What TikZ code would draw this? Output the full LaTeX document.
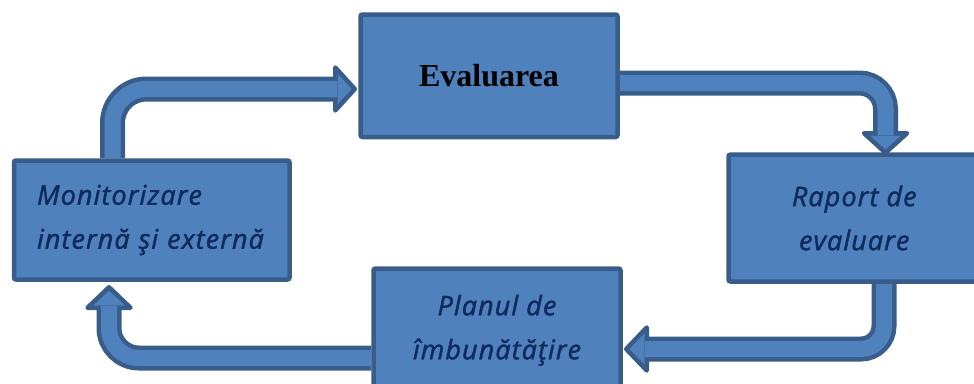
\documentclass[tikz,border=0pt]{standalone}
\usepackage{fontspec}
\usetikzlibrary{calc,backgrounds}
\newfontfamily\handfont[LetterSpace=4,FakeBold=1.5]{Open Sans}
\newfontfamily\titlefont{Liberation Serif}
\definecolor{boxfill}{HTML}{4F81BD}
\definecolor{boxline}{HTML}{385D8A}
\definecolor{txt}{HTML}{0F2A5C}
\begin{document}
\begin{tikzpicture}[x=1pt,y=-1pt,
  box/.style={draw=boxline, fill=boxfill, line width=4.5pt, rounded corners=2pt, inner sep=0pt},
  hand/.style={font=\handfont\itshape\fontsize{27}{44}\selectfont, text=txt},
  tube/.style={draw=boxline, line width=4.5pt, double=boxfill, double distance=16pt},
  headshape/.style={draw=boxline, fill=boxfill, line width=4.5pt, line join=round}]
\useasboundingbox (0,0) rectangle (974,383);
\clip (0,0) rectangle (974,383);
\node[box, minimum width=257pt, minimum height=122.5pt,
      font=\titlefont\bfseries\fontsize{32}{38}\selectfont] (eval) at (489,75.75) {Evaluarea};
\node[box, hand, minimum width=275.5pt, minimum height=119pt, text width=229.5pt, align=left]
      (mon) at (151.75,220) {Monitorizare\\internă şi externă};
\node[box, hand, minimum width=251.5pt, minimum height=127pt, align=center]
      (rap) at (854.25,218) {Raport de\\evaluare};
\node[box, hand, minimum width=247pt, minimum height=123.5pt, align=center]
      (plan) at (497,330.25) {Planul de\\îmbunătăţire};
\begin{scope}[on background layer]
  % Monitorizare -> Evaluarea
  \draw[headshape] ($(eval.west)+(-3.5,13.25)$) -- ++(-19.5,-21.5) -- ++(0,43) -- cycle;
  \draw[tube, rounded corners=34pt] ($(mon.north)+(-39.25,0)$) |- ($(eval.west)+(-21,13.25)$);
  % Evaluarea -> Raport
  \draw[headshape] ($(rap.north)+(31.25,0.5)$) -- ++(-21.5,-19.5) -- ++(43,0) -- cycle;
  \draw[tube, rounded corners=26pt] ($(eval.east)+(0,7.25)$) -| ($(rap.north)+(31.25,-17)$);
  % Raport -> Planul
  \draw[headshape] ($(plan.east)+(3.5,18.75)$) -- ++(20.5,-21.5) -- ++(0,43) -- cycle;
  \draw[tube, rounded corners=23pt] ($(rap.south)+(29.75,0)$) |- ($(plan.east)+(22,18.75)$);
  % Planul -> Monitorizare
  \draw[headshape] ($(mon.south)+(-42.75,5.5)$) -- ++(-21.5,20.5) -- ++(43,0) -- cycle;
  \draw[tube, rounded corners=30pt] ($(plan.west)+(0,27.75)$) -| ($(mon.south)+(-42.75,24)$);
\end{scope}
\end{tikzpicture}
\end{document}
